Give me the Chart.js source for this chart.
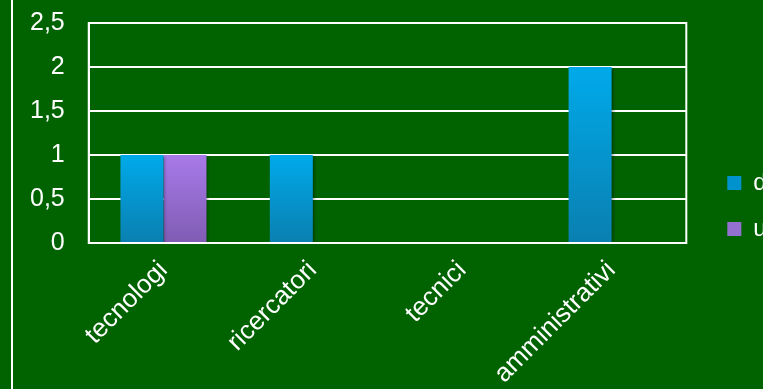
<!DOCTYPE html>
<html>
<head>
<meta charset="utf-8">
<script src="https://cdn.jsdelivr.net/npm/chart.js@4/dist/chart.umd.min.js"></script>
<style>
  html, body { margin: 0; padding: 0; overflow: hidden; background: #006300; }
  #wrap { width: 763px; height: 389px; overflow: hidden; }
  canvas { display: block; }
</style>
</head>
<body>
<div id="wrap"><canvas id="chart" width="834" height="389"></canvas></div>
<script>
  const categories = ["tecnologi", "ricercatori", "tecnici", "amministrativi"];
  const donne = [1, 1, 0, 2];
  const uomini = [1, 0, 0, 0];
  const seriesNames = ["donne", "uomini"];

  const white = "#ffffff";
  const family = "Liberation Sans, Arial, sans-serif";

  // vertical gradient from the top of each bar down to the axis
  function barGradient(top, bottom) {
    return function (ctx) {
      const chart = ctx.chart;
      const y = chart.scales.y;
      if (!y || ctx.parsed == null) return top;
      const y0 = y.getPixelForValue(0);
      const y1 = y.getPixelForValue(ctx.parsed.y);
      if (y0 === y1) return top;
      const g = chart.ctx.createLinearGradient(0, y1, 0, y0);
      g.addColorStop(0, top);
      g.addColorStop(1, bottom);
      return g;
    };
  }

  // white frame round the plot plus the thin rule on the left
  const frame = {
    id: "frame",
    beforeDatasetsDraw(chart) {
      const { ctx } = chart;
      ctx.save();
      ctx.shadowColor = "rgba(0,0,0,0.35)";
      ctx.shadowOffsetX = 2;
      ctx.shadowOffsetY = 2;
      ctx.shadowBlur = 3;
    },
    afterDatasetsDraw(chart) {
      const { ctx, chartArea: a } = chart;
      ctx.restore();
      ctx.save();
      ctx.strokeStyle = white;
      ctx.lineWidth = 2;
      ctx.strokeRect(a.left, a.top, a.right - a.left, a.bottom - a.top);
      ctx.beginPath();
      ctx.moveTo(12, 0);
      ctx.lineTo(12, chart.height);
      ctx.stroke();
      ctx.restore();
    },
  };

  new Chart(document.getElementById("chart"), {
    type: "bar",
    data: {
      labels: categories,
      datasets: [
        {
          label: seriesNames[0],
          data: donne,
          backgroundColor: barGradient("#00aaea", "#0a7fb0"),
          categoryPercentage: 0.576,
          barPercentage: 1,
        },
        {
          label: seriesNames[1],
          data: uomini,
          backgroundColor: barGradient("#a87ae8", "#805cb4"),
          categoryPercentage: 0.576,
          barPercentage: 1,
        },
      ],
    },
    options: {
      responsive: false,
      animation: false,
      layout: { padding: { left: 6, top: 23, right: 0, bottom: 0 } },
      plugins: {
        tooltip: { enabled: false },
        legend: {
          position: "right",
          labels: {
            color: white,
            font: { family: family, size: 24 },
            boxWidth: 14,
            boxHeight: 14,
            padding: 22,
            generateLabels(chart) {
              return chart.data.datasets.map((ds, i) => ({
                text: ds.label,
                fillStyle: i === 0 ? "#0092cc" : "#9470d0",
                strokeStyle: "transparent",
                lineWidth: 0,
                fontColor: white,
                datasetIndex: i,
              }));
            },
          },
        },
      },
      scales: {
        x: {
          grid: { display: false },
          border: { color: white, width: 2 },
          ticks: {
            color: white,
            font: { family: family, size: 26 },
            maxRotation: 45,
            minRotation: 45,
            padding: 4,
          },
          afterFit(scale) {
            scale.height = 146;
            scale.paddingLeft = 0;
            scale.paddingRight = 0;
          },
        },
        y: {
          min: 0,
          max: 2.5,
          border: { color: white, width: 2 },
          grid: { color: white, lineWidth: 2, drawTicks: false },
          ticks: {
            stepSize: 0.5,
            color: white,
            font: { family: family, size: 25 },
            padding: 24,
            callback: (v) => String(v).replace(".", ","),
          },
          afterFit(scale) {
            scale.paddingTop = 0;
            scale.paddingBottom = 0;
          },
        },
        gap: {
          position: "right",
          display: true,
          grid: { display: false },
          border: { display: false },
          ticks: { display: false },
          afterFit(scale) { scale.width = 19; },
        },
      },
    },
    plugins: [frame],
  });
</script>
</body>
</html>
